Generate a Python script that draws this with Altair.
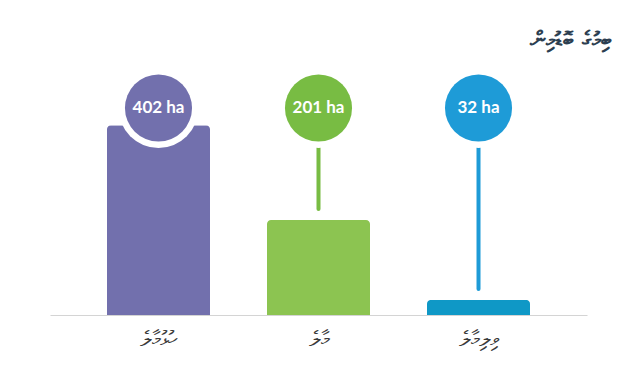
import altair as alt
import pandas as pd

categories = ["ހުޅުމާލެ", "މާލެ", "ވިލިމާލެ"]
areas = [402, 201, 32]
value_labels = ["402 ha", "201 ha", "32 ha"]
bar_colors = ["#7270ad", "#8cc451", "#0f98c6"]
dot_colors = ["#7270ad", "#78bc43", "#1e9bd7"]
title_text = "ބިމުގެ ބޮޑުމިން"

df = pd.DataFrame({
    "cat": categories,
    "area": areas,
    "label": value_labels,
    "bar_color": bar_colors,
    "dot_color": dot_colors,
})

x = alt.X("cat:N", sort=categories,
          scale=alt.Scale(paddingInner=0.356, paddingOuter=0.356),
          axis=alt.Axis(title=None, labelAngle=0, ticks=False, domain=True,
                        domainColor="#d4d4d4", domainWidth=1.2,
                        labelFont="DejaVu Sans", labelFontSize=21,
                        labelColor="#3a3a3a", labelPadding=13))
y = alt.Y("area:Q", scale=alt.Scale(domain=[0, 540], nice=False),
          axis=None)

base = alt.Chart(df)

bars = base.mark_bar(cornerRadiusTopLeft=4, cornerRadiusTopRight=4).encode(
    x=x, y=y, color=alt.Color("bar_color:N", scale=None))

rules = base.mark_rule(strokeWidth=4, strokeCap="round", yOffset=-11).encode(
    x=x, y=y, y2=alt.value(48),
    color=alt.Color("dot_color:N", scale=None))

halo = base.mark_point(filled=True, shape="circle", size=6400, opacity=1).encode(
    x=x, y=alt.value(48), color=alt.value("white"))

dots = base.mark_point(filled=True, shape="circle", size=4500, opacity=1).encode(
    x=x, y=alt.value(48), color=alt.Color("dot_color:N", scale=None))

texts = base.mark_text(font="Lato", fontSize=17, fontWeight="bold",
                       color="white", baseline="middle", align="center").encode(
    x=x, y=alt.value(48), text="label:N")

chart = alt.layer(bars, rules, halo, dots, texts).properties(
    width=537, height=255,
    background="white",
    autosize=alt.AutoSizeParams(type="none"),
    padding={"left": 42, "top": 52, "right": 41, "bottom": 58},
    title=alt.TitleParams(title_text, anchor="end", dx=25, offset=8,
                          font="DejaVu Sans", fontSize=22, fontWeight="bold",
                          color="#2c3e50"),
).configure_view(strokeWidth=0)

chart.save("out.html", embed_options={"renderer": "svg", "actions": False})
